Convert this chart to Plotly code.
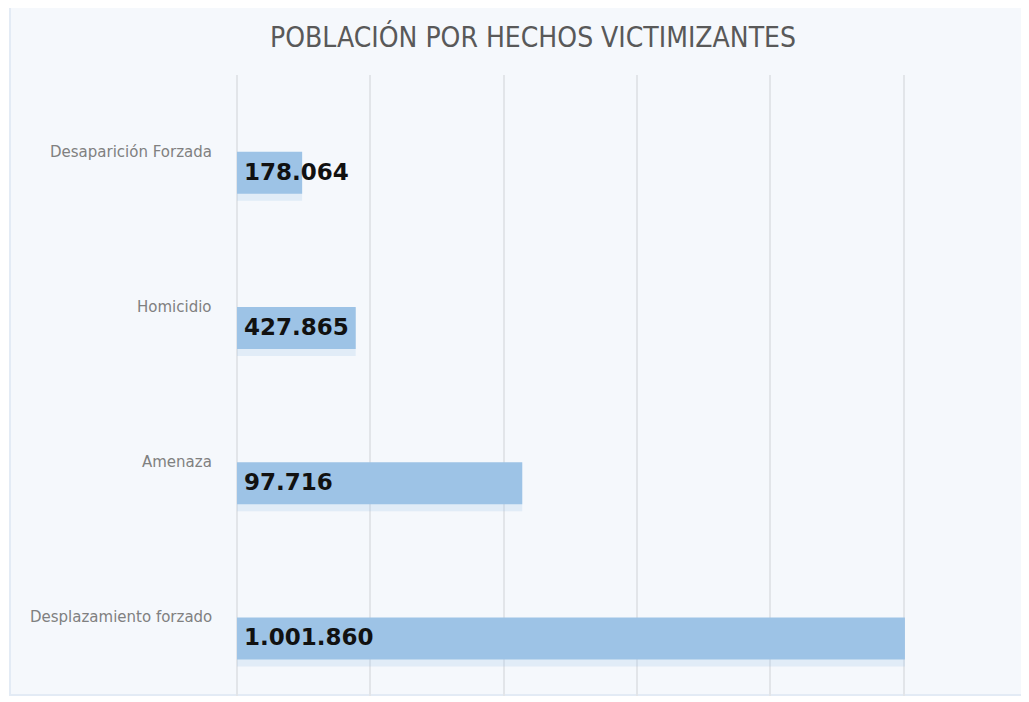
import plotly.graph_objects as go

categories = ["Desplazamiento forzado", "Amenaza", "Homicidio", "Desaparición Forzada"]
bar_values = [1001860, 427865, 178064, 97716]
bar_labels = ["1.001.860", "97.716", "427.865", "178.064"]
title_text = "POBLACIÓN POR HECHOS VICTIMIZANTES"

OFF = 8  # page body margin
W, H = 1029 - OFF, 702 - OFF
ML, MR, MT, MB = 237 - OFF, 124, 75 - OFF, 14 - OFF
PW, PH = W - ML - MR, H - MT - MB

def px_x(p):
    return (p - OFF - ML) / PW

def px_y(p):
    return (H - MB - (p - OFF)) / PH

fig = go.Figure()
# soft shadow below bars
fig.add_trace(go.Bar(
    y=categories, x=bar_values, orientation="h",
    offset=-0.31, width=0.31,
    marker=dict(color="rgba(157,195,230,0.22)", line=dict(width=0)),
    hoverinfo="skip", showlegend=False,
))
fig.add_trace(go.Bar(
    y=categories, x=bar_values, orientation="h",
    offset=-0.265, width=0.27,
    marker=dict(color="#9DC3E6", line=dict(width=0)),
    showlegend=False,
))

annotations = []
for c, lab in zip(categories, bar_labels):
    annotations.append(dict(
        x=0, y=c, xref="x", yref="y", text=lab, showarrow=False,
        xanchor="left", yanchor="middle", xshift=5, yshift=-19,
        font=dict(family="DejaVu Sans", size=23, color="#111111", weight="bold"),
    ))
    annotations.append(dict(
        x=px_x(214), y=c, xref="paper", yref="y", text=c, showarrow=False,
        xanchor="right", yanchor="middle", yshift=1,
        font=dict(family="DejaVu Sans", size=15, color="#808080"),
    ))
annotations.append(dict(
    x=px_x(533), y=px_y(37), xref="paper", yref="paper", text=title_text,
    showarrow=False, xanchor="center", yanchor="middle",
    font=dict(family="DejaVu Sans Condensed, DejaVu Sans, sans-serif",
              size=28, color="#595959"),
))

fig.update_layout(
    width=W, height=H,
    margin=dict(l=ML, r=MR, t=MT, b=MB, autoexpand=False),
    paper_bgcolor="white", plot_bgcolor="rgba(0,0,0,0)",
    barmode="overlay",
    annotations=annotations,
    shapes=[dict(type="rect", xref="paper", yref="paper",
                 x0=px_x(10), x1=px_x(1060), y0=px_y(695), y1=px_y(7),
                 fillcolor="#F5F8FC", line=dict(color="#E3EBF5", width=2), layer="below")],
    xaxis=dict(range=[0, 1002000], tick0=0, dtick=200000, showticklabels=False,
               showgrid=True, gridcolor="#E2E5E9", gridwidth=1.5,
               zeroline=True, zerolinecolor="#E2E5E9", zerolinewidth=1.5,
               showline=False, ticks=""),
    yaxis=dict(range=[-0.5, 3.5], showticklabels=False, showgrid=False,
               zeroline=False, showline=False, ticks=""),
)

fig.write_html("out.html")
